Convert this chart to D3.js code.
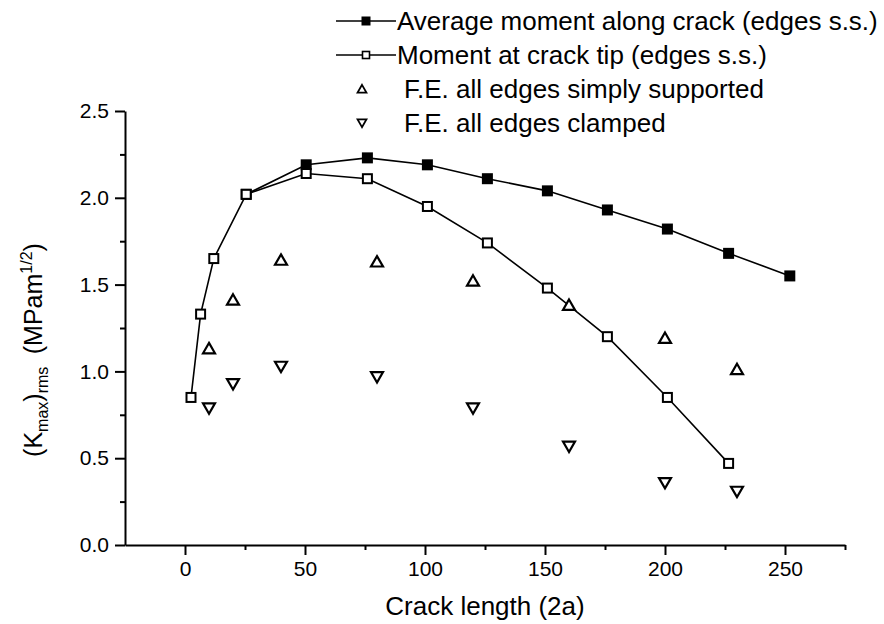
<!DOCTYPE html>
<html>
<head>
<meta charset="utf-8">
<script src="https://cdn.jsdelivr.net/npm/d3@7"></script>
<style>
  html, body { margin: 0; padding: 0; background: #fff; }
  svg { display: block; }
  text { font-family: "Liberation Sans", Arial, Helvetica, sans-serif; fill: #000; }
</style>
</head>
<body>
<svg id="chart" width="884" height="624"></svg>
<script>
// Average moment along the crack, edges simply supported
const avgCrack = [25.5, 50.5, 76, 101, 126, 151, 176, 201, 226.5, 252];
const avgMoment = [2.02, 2.19, 2.23, 2.19, 2.11, 2.04, 1.93, 1.82, 1.68, 1.55];

// Moment at the crack tip, edges simply supported
const tipCrack = [2.5, 6.5, 12, 25.5, 50.5, 76, 101, 126, 151, 176, 201, 226.5];
const tipMoment = [0.85, 1.33, 1.65, 2.02, 2.14, 2.11, 1.95, 1.74, 1.48, 1.20, 0.85, 0.47];

// Finite-element results
const feCrack = [10, 20, 40, 80, 120, 160, 200, 230];
const feSupported = [1.13, 1.41, 1.64, 1.63, 1.52, 1.38, 1.19, 1.01];
const feClamped = [0.79, 0.93, 1.03, 0.97, 0.79, 0.57, 0.36, 0.31];

// Axis ticks
const xMajor = [0, 50, 100, 150, 200, 250];
const xMinor = [25, 75, 125, 175, 225, 275];
const yMajor = [0, 0.5, 1.0, 1.5, 2.0, 2.5];
const yMinor = [0.25, 0.75, 1.25, 1.75, 2.25];

const legendLabels = [
  "Average moment along crack (edges s.s.)",
  "Moment at crack tip (edges s.s.)",
  "F.E. all edges simply supported",
  "F.E. all edges clamped"
];

const FONT = "'Liberation Sans', Arial, Helvetica, sans-serif";
const svg = d3.select("#chart");

const x = d3.scaleLinear().domain([-25, 275]).range([125, 845]);
const y = d3.scaleLinear().domain([0, 2.5]).range([545, 111]);

const zip = (xs, ys) => xs.map((v, i) => [v, ys[i]]);

// ---- axes ----
const gx = svg.append("g").attr("transform", `translate(0,${y(0)})`);
gx.call(d3.axisBottom(x).tickValues(xMajor).tickSize(10).tickSizeOuter(0).tickPadding(6)
  .tickFormat(d3.format("d")));
gx.append("g").call(d3.axisBottom(x).tickValues(xMinor).tickSize(5).tickSizeOuter(0).tickFormat(""))
  .select(".domain").remove();

const gy = svg.append("g").attr("transform", `translate(${x(-25)},0)`);
gy.call(d3.axisLeft(y).tickValues(yMajor).tickSize(10).tickSizeOuter(0).tickPadding(6)
  .tickFormat(d3.format(".1f")));
gy.append("g").call(d3.axisLeft(y).tickValues(yMinor).tickSize(5).tickSizeOuter(0).tickFormat(""))
  .select(".domain").remove();

svg.selectAll("g").attr("font-family", FONT);
svg.selectAll(".domain").attr("stroke", "#000").attr("stroke-width", 2);
svg.selectAll(".tick line").attr("stroke", "#000").attr("stroke-width", 2);
svg.selectAll(".tick text").attr("font-size", 21);

// axis titles
svg.append("text")
  .attr("x", (x(-25) + x(275)) / 2).attr("y", 615)
  .attr("text-anchor", "middle").attr("font-size", 26)
  .text("Crack length (2a)");

const yt = svg.append("text")
  .attr("transform", `translate(42,350) rotate(-90)`)
  .attr("text-anchor", "middle").attr("font-size", 25);
yt.append("tspan").text("(K");
yt.append("tspan").attr("font-size", 16).attr("dy", 6).text("max");
yt.append("tspan").attr("dy", -6).text(")");
yt.append("tspan").attr("font-size", 16).attr("dy", 6).text("rms");
yt.append("tspan").attr("dy", -6).text("\u2002(MPam");
yt.append("tspan").attr("font-size", 16).attr("dy", -10).text("1/2");
yt.append("tspan").attr("dy", 10).text(")");

// ---- markers ----
const triUp = d3.symbol().type(d3.symbolTriangle).size(62);
function squareAt(sel, s) {
  return sel.attr("x", d => x(d[0]) - s / 2).attr("y", d => y(d[1]) - s / 2)
    .attr("width", s).attr("height", s);
}

const line = d3.line().x(d => x(d[0])).y(d => y(d[1]));

// average moment series
const avgPts = zip(avgCrack, avgMoment);
svg.append("path").datum(avgPts).attr("d", line)
  .attr("fill", "none").attr("stroke", "#000").attr("stroke-width", 1.6);
svg.append("g").selectAll("rect").data(avgPts).join("rect")
  .call(squareAt, 11).attr("fill", "#000");

// crack tip series
const tipPts = zip(tipCrack, tipMoment);
svg.append("path").datum(tipPts).attr("d", line)
  .attr("fill", "none").attr("stroke", "#000").attr("stroke-width", 1.6);
svg.append("g").selectAll("rect").data(tipPts).join("rect")
  .call(squareAt, 9).attr("fill", "#fff").attr("stroke", "#000").attr("stroke-width", 2);

// FE simply supported (up triangles)
svg.append("g").selectAll("path").data(zip(feCrack, feSupported)).join("path")
  .attr("d", triUp)
  .attr("transform", d => `translate(${x(d[0])},${y(d[1]) + 1})`)
  .attr("fill", "#fff").attr("stroke", "#000").attr("stroke-width", 2.2);

// FE clamped (down triangles)
svg.append("g").selectAll("path").data(zip(feCrack, feClamped)).join("path")
  .attr("d", triUp)
  .attr("transform", d => `translate(${x(d[0])},${y(d[1]) - 1}) rotate(180)`)
  .attr("fill", "#fff").attr("stroke", "#000").attr("stroke-width", 2.2);

// ---- legend ----
const lg = svg.append("g");
const rowY = [21, 55, 89, 123];
const sx = 366;
lg.append("line").attr("x1", 336).attr("x2", 396).attr("y1", rowY[0]).attr("y2", rowY[0])
  .attr("stroke", "#000").attr("stroke-width", 1.6);
lg.append("rect").attr("x", sx - 4.5).attr("y", rowY[0] - 4.5).attr("width", 9).attr("height", 9)
  .attr("fill", "#000");
lg.append("line").attr("x1", 336).attr("x2", 396).attr("y1", rowY[1]).attr("y2", rowY[1])
  .attr("stroke", "#000").attr("stroke-width", 1.6);
lg.append("rect").attr("x", sx - 3.5).attr("y", rowY[1] - 3.5).attr("width", 7).attr("height", 7)
  .attr("fill", "#fff").attr("stroke", "#000").attr("stroke-width", 1.6);
const triSmall = d3.symbol().type(d3.symbolTriangle).size(34);
lg.append("path").attr("d", triSmall).attr("transform", `translate(${sx - 4},${rowY[2] + 1})`)
  .attr("fill", "#fff").attr("stroke", "#000").attr("stroke-width", 1.8);
lg.append("path").attr("d", triSmall).attr("transform", `translate(${sx - 4},${rowY[3] - 1}) rotate(180)`)
  .attr("fill", "#fff").attr("stroke", "#000").attr("stroke-width", 1.8);

lg.selectAll("text").data(legendLabels).join("text")
  .attr("x", (d, i) => i < 2 ? 397 : 404)
  .attr("y", (d, i) => rowY[i] + 9)
  .attr("font-size", 26)
  .text(d => d);
</script>
</body>
</html>
